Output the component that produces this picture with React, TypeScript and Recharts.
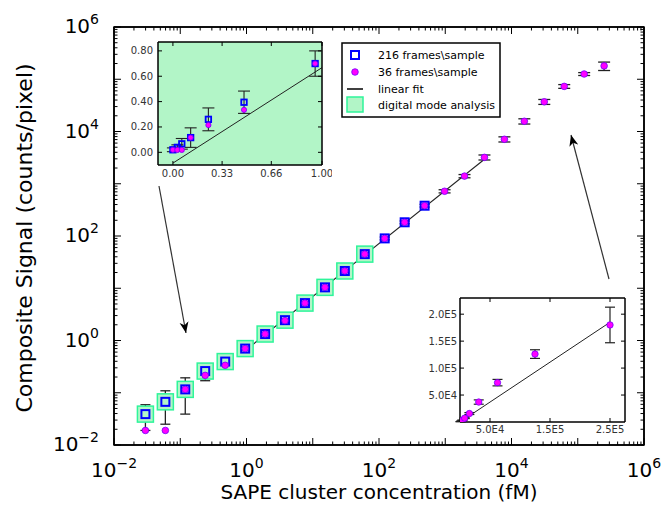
import React from 'react';
import { ComposedChart, Scatter, Line, XAxis, YAxis, ErrorBar, ReferenceArea, Legend } from 'recharts';

const FONT = '"DejaVu Sans", Verdana, sans-serif';

// ---------- data ----------
const concentration = [0.0298, 0.0596, 0.119, 0.238, 0.477, 0.954, 1.91, 3.81, 7.63, 15.3, 30.5, 61.0, 122, 244, 488, 977, 1953, 3906, 7813, 15625, 31250, 62500, 125000, 250000];
const signal216 = [0.039, 0.067, 0.116, 0.26, 0.395, 0.70, 1.33, 2.45, 5.2, 10.4, 21.4, 45, 90, 183, 380];
const error216 = [0.02, 0.042, 0.077, 0.09, 0.088, 0.1, 0.12, 0.2, 0.35, 0.7, 1.4, 2.8, 5.5, 11, 22];
const signal36 = [0.019, 0.019, 0.116, 0.215, 0.335, 0.70, 1.33, 2.4, 5.2, 10.4, 21.4, 45, 90, 183, 380, 718, 1400, 3200, 7100, 15700, 37000, 73000, 126000, 180000];
const error36 = [0, 0, 0, 0, 0, 0, 0, 0, 0, 0, 0, 0, 0, 0, 0, 50, 100, 350, 800, 1800, 4000, 6000, 8000, 33000];
const digitalMode = [0.039, 0.067, 0.116, 0.26, 0.395, 0.70, 1.33, 2.45, 5.2, 10.4, 21.4, 45];
const blankSignal216 = 0.02;
const blankSignal36 = 0.02;
const blankError216 = 0.015;

const fitMainX = [0.954, 3906];
const fitMainY = [0.64, 2950];
const fitLowX = [0, 1.0];
const fitLowY = [-0.085, 0.668];
const fitHighX = [2000, 250000];
const fitHighY = [1400, 185000];

const majorExps = [-2, -1, 0, 1, 2, 3, 4, 5, 6];
const lowXTicks = [0, 0.33, 0.66, 1.0];
const lowYTicks = [0, 0.2, 0.4, 0.6, 0.8];
const highXTicks = [50000, 150000, 250000];
const highYTicks = [50000, 100000, 150000, 200000];

// ---------- derived tables ----------
const logTicks: number[] = [];
majorExps.forEach((e, i) => {
  if (i === majorExps.length - 1) { logTicks.push(Math.pow(10, e)); return; }
  for (let m = 1; m <= 9; m++) logTicks.push(m * Math.pow(10, e));
});

const main216 = signal216.map((y, i) => ({ x: concentration[i], y, err: error216[i] }));
const main36Low = signal36.slice(0, 15).map((y, i) => ({ x: concentration[i], y }));
const main36High = signal36.slice(15).map((y, i) => ({ x: concentration[i + 15], y, err: error36[i + 15] }));
const mainDigital = digitalMode.map((y, i) => ({ x: concentration[i], y }));
const mainFit = fitMainX.map((x, i) => ({ x, y: fitMainY[i] }));

const lowConc = [0, ...concentration.slice(0, 6)];
const lowErr = [blankError216, ...error216.slice(0, 6)];
const low216 = [blankSignal216, ...signal216.slice(0, 6)].map((y, i) => ({ x: lowConc[i], y, err: lowErr[i] }));
const low36 = [blankSignal36, ...signal36.slice(0, 6)].map((y, i) => ({ x: lowConc[i], y }));
const lowFit = fitLowX.map((x, i) => ({ x, y: fitLowY[i] }));

const high216 = signal216.map((y, i) => ({ x: concentration[i], y }));
const high36 = signal36.map((y, i) => ({ x: concentration[i], y, err: error36[i] }));
const highFit = fitHighX.map((x, i) => ({ x, y: fitHighY[i] }));

// ---------- shapes ----------
const BLUE = '#0000ff';
const MAGENTA = '#ff00ff';
const MAG_EDGE = '#7000ff';
const GREEN_FILL = '#b2f5c7';
const GREEN_EDGE = '#2ef59a';

const squareShape = (s: number, sw: number) => (p: any) =>
  <rect x={p.cx - s / 2} y={p.cy - s / 2} width={s} height={s} fill="none" stroke={BLUE} strokeWidth={sw} />;
const circleShape = (r: number) => (p: any) =>
  <circle cx={p.cx} cy={p.cy} r={r} fill={MAGENTA} stroke={MAG_EDGE} strokeWidth={0.8} />;
const greenShape = (p: any) =>
  <rect x={p.cx - 8} y={p.cy - 8} width={16} height={16} fill={GREEN_FILL} stroke={GREEN_EDGE} strokeWidth={1.5} />;

// ---------- ticks ----------
type TickOpts = {
  side: 'bottom' | 'top' | 'left' | 'right';
  len: (v: number) => number;
  label?: (v: number) => React.ReactNode;
  fontSize?: number;
  dx?: number;
  dy?: number;
  color?: string;
};
function makeTick(o: TickOpts) {
  return (props: any) => {
    const { x, y, payload } = props;
    const v = payload.value;
    const L = o.len(v);
    let x2 = x, y2 = y;
    if (o.side === 'bottom') y2 = y - L;
    else if (o.side === 'top') y2 = y + L;
    else if (o.side === 'left') x2 = x + L;
    else x2 = x - L;
    const lab = o.label ? o.label(v) : null;
    return (
      <g>
        <line x1={x} y1={y} x2={x2} y2={y2} stroke="#000" strokeWidth={1} />
        {lab != null && (
          <text x={x + (o.dx || 0)} y={y + (o.dy || 0)} textAnchor={o.side === 'left' ? 'end' : 'middle'}
            fontSize={o.fontSize} fontFamily={FONT} fill={o.color || '#000'}>{lab}</text>
        )}
      </g>
    );
  };
}
const isMajor = (v: number) => Math.abs(Math.log10(v) - Math.round(Math.log10(v))) < 1e-6;
const logLen = (v: number) => (isMajor(v) ? 7 : 3.5);
const logLabel = (v: number) => {
  const e = Math.round(Math.log10(v));
  if (!isMajor(v) || e % 2 !== 0) return null;
  return [<tspan key="b">10</tspan>, <tspan key="s" dy={-9} fontSize={14}>{e < 0 ? '\u2212' + (-e) : String(e)}</tspan>];
};
const fixed2 = (v: number) => v.toFixed(2);
const sciE = (v: number) => {
  const e = Math.floor(Math.log10(v) + 1e-9);
  return (v / Math.pow(10, e)).toFixed(1) + 'E' + e;
};
const len4 = () => 4;

const axisLine = { stroke: '#000', strokeWidth: 1.5 };
const insetAxisLine = { stroke: '#000', strokeWidth: 1 };

// ---------- titles / legend ----------
const XTitle = () => (
  <text x={379} y={499} textAnchor="middle" fontSize={20} fontFamily={FONT} fill="#000">SAPE cluster concentration (fM)</text>
);
const YTitle = () => (
  <text x={32} y={238} transform="rotate(-90, 32, 238)" textAnchor="middle" fontSize={22} fontFamily={FONT} fill="#000">Composite Signal (counts/pixel)</text>
);

const legendItems = ['216 frames\\sample', '36 frames\\sample', 'linear fit', 'digital mode analysis'];
const LegendBox = () => {
  const rows = [13, 30, 47, 63];
  const mx = 14;
  return (
    <svg width={161} height={77} style={{ display: 'block' }}>
      <rect x={1} y={1} width={158} height={74} fill="#fff" stroke="#000" strokeWidth={1.5} />
      <rect x={mx - 4} y={rows[0] - 4} width={8} height={8} fill="none" stroke={BLUE} strokeWidth={2} />
      <circle cx={mx} cy={rows[1]} r={3.3} fill={MAGENTA} stroke={MAG_EDGE} strokeWidth={0.8} />
      <line x1={mx - 8} x2={mx + 8} y1={rows[2]} y2={rows[2]} stroke="#000" strokeWidth={1.5} />
      <rect x={mx - 8} y={rows[3] - 8} width={16} height={15} fill={GREEN_FILL} stroke={GREEN_EDGE} strokeWidth={1.5} />
      {legendItems.map((t, i) => (
        <text key={t} x={37} y={rows[i] + 4} fontSize={11} fontFamily={FONT} fill="#000">{t}</text>
      ))}
    </svg>
  );
};

// ---------- charts ----------
function MainChart() {
  return (
    <ComposedChart width={664} height={505} margin={{ top: 26, right: 19, bottom: 0, left: 0 }}>
      <XAxis xAxisId="b" type="number" dataKey="x" scale="log" domain={[0.01, 1e6]} allowDataOverflow
        ticks={logTicks} interval={0} height={60} tickSize={0} tickMargin={0} tickLine={false} axisLine={axisLine}
        tick={makeTick({ side: 'bottom', len: logLen, label: logLabel, fontSize: 20, dy: 32 })} label={<XTitle />} />
      <XAxis xAxisId="t" orientation="top" type="number" dataKey="x" scale="log" domain={[0.01, 1e6]} allowDataOverflow
        ticks={logTicks} interval={0} height={1} tickSize={0} tickMargin={0} tickLine={false} axisLine={axisLine}
        tick={makeTick({ side: 'top', len: logLen })} />
      <YAxis yAxisId="l" type="number" dataKey="y" scale="log" domain={[0.01, 1e6]} allowDataOverflow
        ticks={logTicks} interval={0} width={114} tickSize={0} tickMargin={0} tickLine={false} axisLine={axisLine}
        tick={makeTick({ side: 'left', len: logLen, label: logLabel, fontSize: 20, dx: -15, dy: 6 })} label={<YTitle />} />
      <YAxis yAxisId="r" orientation="right" type="number" dataKey="y" scale="log" domain={[0.01, 1e6]} allowDataOverflow
        ticks={logTicks} interval={0} width={1} tickSize={0} tickMargin={0} tickLine={false} axisLine={axisLine}
        tick={makeTick({ side: 'right', len: logLen })} />
      <ReferenceArea xAxisId="b" yAxisId="l" x1={0.01} x2={1e6} y1={0.01} y2={1e6} fill="none" stroke="#000" strokeWidth={1.5} ifOverflow="visible" />
      <Scatter xAxisId="b" yAxisId="l" data={mainDigital} dataKey="y" shape={greenShape} isAnimationActive={false} />
      <Scatter xAxisId="b" yAxisId="l" data={main216} dataKey="y" shape={squareShape(8, 2)} isAnimationActive={false}>
        <ErrorBar dataKey="err" direction="y" width={5} stroke="#222" strokeWidth={1.3} isAnimationActive={false} />
      </Scatter>
      <Scatter xAxisId="b" yAxisId="l" data={main36Low} dataKey="y" shape={circleShape(3.3)} isAnimationActive={false} />
      <Scatter xAxisId="b" yAxisId="l" data={main36High} dataKey="y" shape={circleShape(3.3)} isAnimationActive={false}>
        <ErrorBar dataKey="err" direction="y" width={6} stroke="#222" strokeWidth={1.3} isAnimationActive={false} />
      </Scatter>
      <Line xAxisId="b" yAxisId="l" data={mainFit} dataKey="y" stroke="#222" strokeWidth={1.1} dot={false} isAnimationActive={false} />
      <Legend layout="vertical" align="center" verticalAlign="middle"
        wrapperStyle={{ position: 'absolute', left: 341, top: 42, width: 161, height: 77, margin: 0, padding: 0 }}
        content={() => <LegendBox />} />
    </ComposedChart>
  );
}

function LowInset() {
  const dom: [number, number] = [-0.1, 1.0];
  const ydom: [number, number] = [-0.1, 0.87];
  return (
    <ComposedChart width={214} height={150} margin={{ top: 5, right: 9, bottom: 0, left: 0 }}>
      <XAxis xAxisId="b" type="number" dataKey="x" domain={dom} allowDataOverflow ticks={lowXTicks} interval={0}
        height={21} tickSize={0} tickMargin={0} tickLine={false} axisLine={insetAxisLine}
        tick={makeTick({ side: 'bottom', len: len4, label: fixed2, fontSize: 10, dy: 12, color: '#333' })} />
      <XAxis xAxisId="t" orientation="top" type="number" dataKey="x" domain={dom} allowDataOverflow ticks={lowXTicks} interval={0}
        height={1} tickSize={0} tickMargin={0} tickLine={false} axisLine={insetAxisLine}
        tick={makeTick({ side: 'top', len: len4 })} />
      <YAxis yAxisId="l" type="number" dataKey="y" domain={ydom} allowDataOverflow ticks={lowYTicks} interval={0}
        width={40} tickSize={0} tickMargin={0} tickLine={false} axisLine={insetAxisLine}
        tick={makeTick({ side: 'left', len: len4, label: fixed2, fontSize: 10, dx: -5, dy: 3.5, color: '#333' })} />
      <YAxis yAxisId="r" orientation="right" type="number" dataKey="y" domain={ydom} allowDataOverflow ticks={lowYTicks} interval={0}
        width={1} tickSize={0} tickMargin={0} tickLine={false} axisLine={insetAxisLine}
        tick={makeTick({ side: 'right', len: len4 })} />
      <ReferenceArea xAxisId="b" yAxisId="l" x1={dom[0]} x2={dom[1]} y1={ydom[0]} y2={ydom[1]} fill={GREEN_FILL} fillOpacity={1} stroke="#000" strokeWidth={1} />
      <Line xAxisId="b" yAxisId="l" data={lowFit} dataKey="y" stroke="#222" strokeWidth={1} dot={false} isAnimationActive={false} />
      <Scatter xAxisId="b" yAxisId="l" data={low216} dataKey="y" shape={squareShape(5.5, 1.8)} isAnimationActive={false}>
        <ErrorBar dataKey="err" direction="y" width={6} stroke="#222" strokeWidth={1.1} isAnimationActive={false} />
      </Scatter>
      <Scatter xAxisId="b" yAxisId="l" data={low36} dataKey="y" shape={circleShape(2.6)} isAnimationActive={false} />
    </ComposedChart>
  );
}

function HighInset() {
  const dom: [number, number] = [0, 275000];
  const ydom: [number, number] = [0, 230000];
  return (
    <ComposedChart width={225} height={150} margin={{ top: 5, right: 9, bottom: 0, left: 0 }}>
      <XAxis xAxisId="b" type="number" dataKey="x" domain={dom} allowDataOverflow ticks={highXTicks} interval={0}
        height={20} tickSize={0} tickMargin={0} tickLine={false} axisLine={insetAxisLine}
        tick={makeTick({ side: 'bottom', len: len4, label: sciE, fontSize: 10, dy: 11, color: '#333' })} />
      <XAxis xAxisId="t" orientation="top" type="number" dataKey="x" domain={dom} allowDataOverflow ticks={highXTicks} interval={0}
        height={1} tickSize={0} tickMargin={0} tickLine={false} axisLine={insetAxisLine}
        tick={makeTick({ side: 'top', len: len4 })} />
      <YAxis yAxisId="l" type="number" dataKey="y" domain={ydom} allowDataOverflow ticks={highYTicks} interval={0}
        width={50} tickSize={0} tickMargin={0} tickLine={false} axisLine={insetAxisLine}
        tick={makeTick({ side: 'left', len: len4, label: sciE, fontSize: 10, dx: -3, dy: 3.5, color: '#333' })} />
      <YAxis yAxisId="r" orientation="right" type="number" dataKey="y" domain={ydom} allowDataOverflow ticks={highYTicks} interval={0}
        width={1} tickSize={0} tickMargin={0} tickLine={false} axisLine={insetAxisLine}
        tick={makeTick({ side: 'right', len: len4 })} />
      <ReferenceArea xAxisId="b" yAxisId="l" x1={dom[0]} x2={dom[1]} y1={ydom[0]} y2={ydom[1]} fill="#fff" fillOpacity={1} stroke="#000" strokeWidth={1} />
      <Line xAxisId="b" yAxisId="l" data={highFit} dataKey="y" stroke="#222" strokeWidth={1} dot={false} isAnimationActive={false} />
      <Scatter xAxisId="b" yAxisId="l" data={high216} dataKey="y" shape={squareShape(5, 1.6)} isAnimationActive={false} />
      <Scatter xAxisId="b" yAxisId="l" data={high36} dataKey="y" shape={circleShape(3.2)} isAnimationActive={false}>
        <ErrorBar dataKey="err" direction="y" width={5} stroke="#222" strokeWidth={1.2} isAnimationActive={false} />
      </Scatter>
    </ComposedChart>
  );
}

function Arrows() {
  return (
    <svg width={664} height={505} style={{ position: 'absolute', left: 0, top: 0, pointerEvents: 'none' }}>
      <defs>
        <marker id="ah" markerWidth={12} markerHeight={10} refX={11} refY={5} orient="auto" markerUnits="userSpaceOnUse">
          <path d="M0,0.5 L11,5 L0,9.5 L3,5 Z" fill="#000" />
        </marker>
      </defs>
      <line x1={159} y1={186} x2={186} y2={333} stroke="#333" strokeWidth={1.2} markerEnd="url(#ah)" />
      <line x1={609} y1={279} x2={571} y2={135} stroke="#333" strokeWidth={1.2} markerEnd="url(#ah)" />
    </svg>
  );
}

export default function App() {
  return (
    <div style={{ position: 'absolute', left: 0, top: 0, width: 664, height: 505, background: '#fff' }}>
      <div style={{ position: 'absolute', left: 0, top: 0 }}><MainChart /></div>
      <div style={{ position: 'absolute', left: 118, top: 36 }}><LowInset /></div>
      <div style={{ position: 'absolute', left: 410, top: 292 }}><HighInset /></div>
      <Arrows />
    </div>
  );
}
